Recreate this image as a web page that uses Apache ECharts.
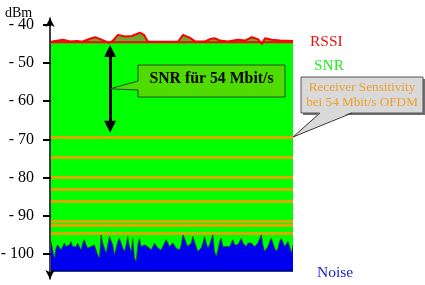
<!DOCTYPE html>
<html><head><meta charset="utf-8">
<script src="https://cdn.jsdelivr.net/npm/echarts@6/dist/echarts.min.js"></script>
<style>html,body{margin:0;padding:0;background:#fff}#c{width:425px;height:285px}</style>
</head><body><div id="c"></div>
<script>
// ---- data (dBm) ----
const yTickValues = [-100, -90, -80, -70, -60, -50, -40];
const sampleCount = 146;                  // time samples along x
const rssiBase = -44.6;                   // RSSI baseline
const floorLevel = -104.6;                // bottom of the picture
const noiseFloorLine = -104.2;            // thin dark line at the bottom of the noise
const rssiX = [0, 7.2, 11.4, 15.6, 18.6, 23.4, 26.4, 30.6, 34.8, 37, 40.1, 44.3, 48.5, 53.3, 55.7, 58.1, 76.1, 79.1, 83.3, 86.3, 92.3, 95.3, 98.3, 101.3, 106, 112, 116.2, 120.4, 124, 126.4, 128.2, 132.4, 137.2, 145];
const rssiVal = [-44.5, -44.0, -44.4, -44.3, -44.5, -43.7, -43.3, -44.0, -44.8, -44.3, -42.7, -43.1, -43.0, -42.1, -42.7, -44.5, -44.5, -42.7, -43.5, -44.4, -44.4, -43.8, -43.6, -44.2, -44.4, -44.0, -44.2, -43.3, -43.8, -45.1, -43.6, -44.0, -44.2, -44.3];
const noiseLevel = [
 -96.7,-96.5,-101.0,-98.4,-97.6,-98.2,-98.9,-98.0,-97.1,-98.0,-98.4,-97.6,-96.7,-98.0,-98.4,-98.0,-97.1,-98.0,-98.9,-97.1,
 -96.2,-97.6,-98.4,-98.2,-98.0,-97.7,-97.6,-98.9,-100.2,-101.0,-94.9,-97.1,-98.4,-99.7,-97.6,-95.4,-95.1,-97.6,-100.2,-98.4,
 -96.7,-95.8,-97.1,-98.4,-99.3,-97.6,-95.4,-98.0,-99.3,-95.8,-101.0,-101.9,-97.6,-95.8,-98.0,-98.4,-97.6,-97.6,-98.0,-98.4,
 -98.9,-98.0,-97.1,-97.6,-98.4,-98.6,-98.9,-98.0,-97.1,-96.2,-97.1,-98.0,-98.4,
 -97.1,-97.6,-98.4,-98.0,-98.9,-97.6,-94.9,-95.8,-97.1,-98.0,-98.4,-97.1,-95.4,-96.7,-98.0,-99.3,-99.7,-98.4,-97.1,-95.4,
 -97.1,-98.4,-97.6,-96.2,-94.9,-99.3,-100.6,-98.9,-96.7,-95.8,-98.0,-98.4,-98.0,-97.6,-98.0,-97.1,-96.2,-97.6,-98.0,-97.6,
 -96.7,-95.8,-97.1,-97.6,-98.0,-97.1,-96.7,-97.1,-97.6,-98.0,-98.4,-97.1,-96.7,-94.9,-97.6,-99.3,-99.7,-98.0,-96.7,-95.8,
 -97.1,-98.4,-99.3,-98.4,-96.7,-95.8,-96.2,-98.0,-98.4,-96.7,-98.0,-99.7,-97.6
];
const sensitivityLevels = [-69.4, -74.6, -79.9, -83.0, -86.1, -91.4, -92.4, -94.5];
const snrArrowX = 35.4;
const snrArrow = [-46.9, -66.7];
const labelsText = { unit: 'dBm', rssi: 'RSSI', snr: 'SNR', noise: 'Noise',
  snrBox: 'SNR für 54 Mbit/s', sensBox: 'Receiver Sensitivity\nbei 54 Mbit/s OFDM' };

const serif = '"Liberation Serif", "Times New Roman", serif';
const chart = echarts.init(document.getElementById('c'), null, { renderer: 'canvas' });

const option = {
  animation: false,
  grid: [
    { left: 51, right: 132, top: -13.7, bottom: -7.3, outerBoundsMode: 'none', containLabel: false },
    { left: 50, right: 132, top: 18, bottom: 6, outerBoundsMode: 'none', containLabel: false }
  ],
  xAxis: [
    { gridIndex: 0, type: 'value', min: 0, max: sampleCount - 1, show: false },
    { gridIndex: 1, type: 'value', min: 0, max: 1, show: false }
  ],
  yAxis: [
    { gridIndex: 0, type: 'value', min: -110, max: -30, interval: 10,
      axisLine: { show: false },
      axisTick: { show: true, length: 8, lineStyle: { color: '#000', width: 2 } },
      splitLine: { show: false },
      axisLabel: { showMinLabel: false, showMaxLabel: false, margin: 17,
        color: '#000', fontFamily: serif, fontSize: 16,
        formatter: v => yTickValues.includes(v) ? '- ' + Math.abs(v) : '' } },
    { gridIndex: 1, type: 'value', min: 0, max: 1, z: 10,
      axisLine: { show: true, symbol: ['arrow', 'arrow'], symbolSize: [7, 9],
        lineStyle: { color: '#000', width: 1.5 } },
      axisTick: { show: false }, axisLabel: { show: false }, splitLine: { show: false } }
  ],
  series: [
    { name: 'SNR', type: 'line', xAxisIndex: 0, yAxisIndex: 0, silent: true,
      data: [[0, rssiBase], [sampleCount - 1, rssiBase]], symbol: 'none',
      lineStyle: { color: '#ff0000', width: 2 },
      areaStyle: { color: '#00ff00', opacity: 1, origin: floorLevel } },
    { name: 'Sensitivity', type: 'line', xAxisIndex: 0, yAxisIndex: 0, data: [], silent: true,
      markLine: { silent: true, symbol: 'none', label: { show: false },
        lineStyle: { color: '#ff9900', width: 2.5, type: 'solid' },
        data: sensitivityLevels.map(v => ({ yAxis: v })) } },
    { name: 'Noise', type: 'line', xAxisIndex: 0, yAxisIndex: 0, silent: true,
      data: noiseLevel.map((v, i) => [i, v]), symbol: 'none',
      lineStyle: { color: '#1f5a00', width: 0.6 },
      areaStyle: { color: '#0000f0', opacity: 1, origin: floorLevel },
      markLine: { silent: true, symbol: 'none', label: { show: false },
        lineStyle: { color: '#00005a', width: 1, type: 'solid' },
        data: [{ yAxis: noiseFloorLine }] } },
    { name: 'RSSI', type: 'line', xAxisIndex: 0, yAxisIndex: 0, silent: true,
      data: rssiX.map((x, i) => [x, rssiVal[i]]), symbol: 'none',
      lineStyle: { color: '#ff0000', width: 2 },
      areaStyle: { color: '#6aa832', opacity: 1, origin: rssiBase } },
    { name: 'SNR arrow', type: 'line', xAxisIndex: 0, yAxisIndex: 0, data: [], silent: true,
      markLine: { silent: true, symbol: ['triangle', 'triangle'], symbolSize: [12, 12],
        label: { show: false }, lineStyle: { color: '#000', width: 3, type: 'solid' },
        data: [[{ coord: [snrArrowX, snrArrow[0]] }, { coord: [snrArrowX, snrArrow[1]] }]] } }
  ]
};
chart.setOption(option);

const tip1 = chart.convertToPixel({ gridIndex: 0 }, [snrArrowX, (snrArrow[0] + snrArrow[1]) / 2]);
const tip2 = chart.convertToPixel({ gridIndex: 0 }, [sampleCount - 1, sensitivityLevels[0]]);

chart.setOption({
  graphic: [
    { type: 'text', x: 5, y: 13, style: { text: labelsText.unit, font: '14px ' + serif, fill: '#000', verticalAlign: 'middle' } },
    { type: 'text', x: 310, y: 42, style: { text: labelsText.rssi, font: '15.5px ' + serif, fill: '#ee1111', verticalAlign: 'middle' } },
    { type: 'text', x: 314, y: 66, style: { text: labelsText.snr, font: '15.5px ' + serif, fill: '#22ee22', verticalAlign: 'middle' } },
    { type: 'text', x: 317, y: 273, style: { text: labelsText.noise, font: '15.5px ' + serif, fill: '#1c1cc8', verticalAlign: 'middle' } },
    // SNR callout
    { type: 'rect', z: 20, shape: { x: 138, y: 65, width: 147, height: 32 }, style: { fill: '#50dc00', stroke: '#2a4a2a', lineWidth: 1 } },
    { type: 'polygon', z: 21, shape: { points: [[139.5, 81], [139.5, 90], tip1] }, style: { fill: '#50dc00' } },
    { type: 'polyline', z: 22, shape: { points: [[138, 81], tip1, [138, 90]] }, style: { stroke: '#2a4a2a', lineWidth: 1, fill: null } },
    { type: 'text', z: 23, x: 211.5, y: 79, style: { text: labelsText.snrBox, font: 'bold 15.8px ' + serif, fill: '#000', align: 'center', verticalAlign: 'middle' } },
    // Sensitivity callout
    { type: 'rect', z: 19, shape: { x: 303, y: 79, width: 122, height: 36 }, style: { fill: '#707070' } },
    { type: 'rect', z: 20, shape: { x: 301, y: 77, width: 122, height: 36 }, style: { fill: '#d9d9d9', stroke: '#555', lineWidth: 1 } },
    { type: 'polygon', z: 21, shape: { points: [[320, 112], [352, 112], tip2] }, style: { fill: '#d9d9d9' } },
    { type: 'polyline', z: 22, shape: { points: [[320, 113], tip2, [352, 113]] }, style: { stroke: '#333', lineWidth: 1, fill: null } },
    { type: 'text', z: 23, x: 362, y: 95, style: { text: labelsText.sensBox, font: '13.2px ' + serif, fill: '#f0a030', align: 'center', verticalAlign: 'middle', lineHeight: 15 } }
  ]
});
</script></body></html>
